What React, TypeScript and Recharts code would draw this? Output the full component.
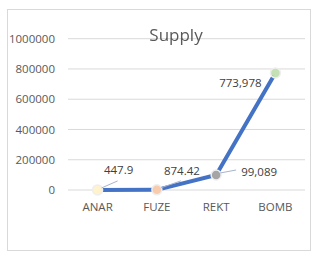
import { CartesianGrid, Line, LineChart, XAxis, YAxis } from "recharts";

const categories = ["ANAR", "FUZE", "REKT", "BOMB"];
const supply = [447.9, 874.42, 99089, 773978];
const yTicks = [0, 200000, 400000, 600000, 800000, 1000000];
const dotColors = ["#fff2cc", "#f8cbad", "#a5a5a5", "#c5e0b4"];

const data = categories.map((name, i) => ({ name, supply: supply[i] }));

// label placement relative to each point: text centre + leader line end
const labelOffsets = [
  { dx: 21, dy: -20, lx: 20, ly: -9 },
  { dx: 25, dy: -19, lx: 24, ly: -9 },
  { dx: 43, dy: -4, lx: 20, ly: -5 },
  { dx: -35, dy: 10, lx: -3, ly: 3 },
];

const fmt = (v: number) => (v < 1000 ? String(v) : v.toLocaleString("en-US"));

const font = "'Open Sans', sans-serif";

function Dot(props: any) {
  const { cx, cy, index } = props;
  return (
    <circle
      key={`d-${index}`}
      cx={cx}
      cy={cy}
      r={5}
      fill={dotColors[index]}
      stroke="#eeeeee"
      strokeWidth={1.5}
    />
  );
}

function PointLabel(props: any) {
  const { x, y, value, index } = props;
  const o = labelOffsets[index];
  return (
    <g key={`l-${index}`}>
      <line
        x1={x + (o.lx > 0 ? 4 : -2)}
        y1={y + (o.ly > 0 ? 2 : -2)}
        x2={x + o.lx}
        y2={y + o.ly}
        stroke="#a6b4cc"
        strokeWidth={1}
      />
      <text
        x={x + o.dx}
        y={y + o.dy}
        textAnchor="middle"
        dominantBaseline="central"
        fontSize={11.5}
        fontFamily={font}
        fill="#404040"
      >
        {fmt(value)}
      </text>
    </g>
  );
}

export default function App() {
  return (
    <div style={{ position: "fixed", left: 0, top: 0, width: 316, height: 259, background: "#fff" }}>
      <div
        style={{
          position: "absolute",
          left: 7,
          top: 9,
          width: 302,
          height: 240,
          border: "1px solid #d9d9d9",
        }}
      />
      <div
        style={{
          position: "absolute",
          left: 0,
          top: 23,
          width: 352,
          textAlign: "center",
          fontFamily: font,
          fontSize: 17,
          color: "#595959",
          pointerEvents: "none",
          zIndex: 1,
        }}
      >
        Supply
      </div>
      <div style={{ position: "absolute", left: 0, top: 0 }}>
        <LineChart
          width={316}
          height={259}
          data={data}
          margin={{ top: 38.7, right: 11, left: 0, bottom: 39 }}
        >
          <CartesianGrid stroke="#d9d9d9" vertical={false} />
          <XAxis
            dataKey="name"
            axisLine={false}
            tickLine={false}
            padding={{ left: 29.6, right: 29.6 }}
            tick={{ fill: "#595959", fontSize: 11.5, fontFamily: font }}
            tickMargin={7}
            height={30}
          />
          <YAxis
            domain={[0, 1000000]}
            ticks={yTicks}
            axisLine={false}
            tickLine={false}
            width={68}
            tickMargin={7}
            interval={0}
            tick={{ fill: "#595959", fontSize: 11.5, fontFamily: font }}
          />
          <Line
            type="linear"
            dataKey="supply"
            stroke="#4472c4"
            strokeWidth={4}
            dot={<Dot />}
            activeDot={false}
            label={<PointLabel />}
            isAnimationActive={false}
          />
        </LineChart>
      </div>
    </div>
  );
}
